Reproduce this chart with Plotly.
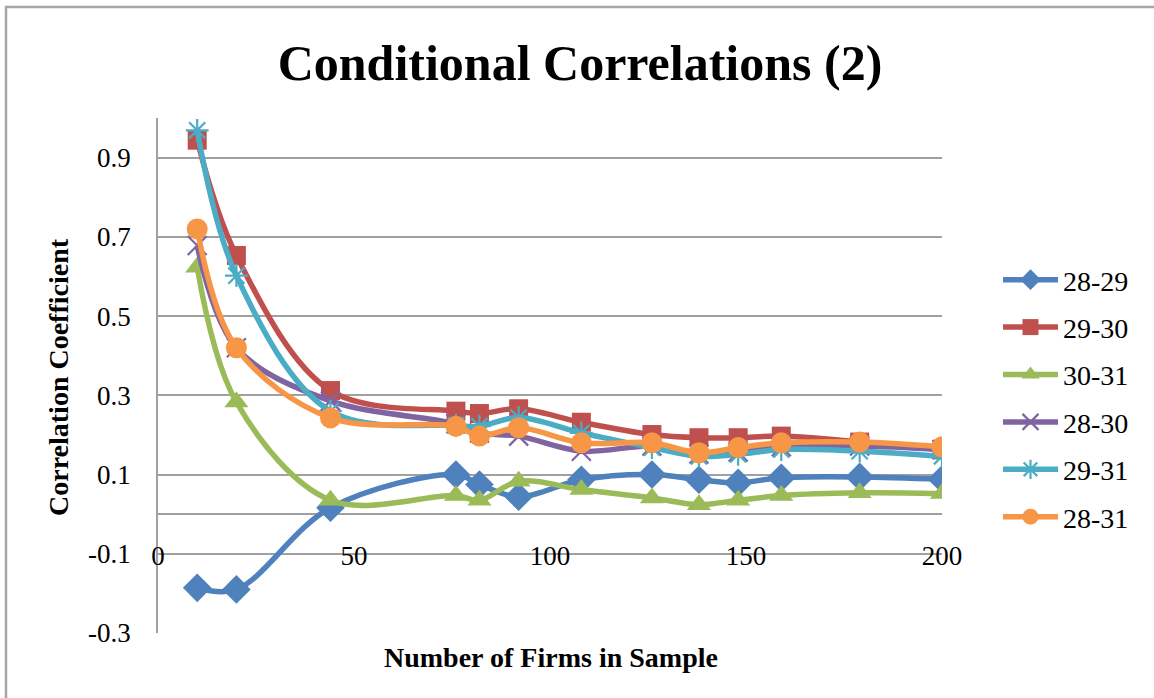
import plotly.graph_objects as go

firms = [10, 20, 44, 76, 82, 92, 108, 126, 138, 148, 159, 179, 200]
s_28_29 = [-0.186, -0.190, 0.016, 0.100, 0.075, 0.044, 0.087, 0.100, 0.087, 0.079, 0.092, 0.094, 0.088]
s_29_30 = [0.944, 0.653, 0.312, 0.260, 0.254, 0.266, 0.232, 0.201, 0.193, 0.193, 0.197, 0.182, 0.162]
s_30_31 = [0.623, 0.283, 0.035, 0.047, 0.035, 0.083, 0.062, 0.041, 0.024, 0.035, 0.047, 0.054, 0.052]
s_28_30 = [0.678, 0.420, 0.286, 0.228, 0.205, 0.197, 0.159, 0.172, 0.152, 0.157, 0.170, 0.172, 0.163]
s_29_31 = [0.969, 0.602, 0.260, 0.224, 0.222, 0.244, 0.205, 0.168, 0.146, 0.151, 0.163, 0.159, 0.146]
s_28_31 = [0.720, 0.420, 0.243, 0.222, 0.197, 0.218, 0.180, 0.180, 0.155, 0.168, 0.180, 0.182, 0.170]

names = ["28-29", "29-30", "30-31", "28-30", "29-31", "28-31"]
values = [s_28_29, s_29_30, s_30_31, s_28_30, s_29_31, s_28_31]

y_tickvals = [-0.3, -0.1, 0.1, 0.3, 0.5, 0.7, 0.9]
y_ticktext = ["-0.3", "-0.1", "0.1", "0.3", "0.5", "0.7", "0.9"]
x_tickvals = [0, 50, 100, 150, 200]

colors = ["#4F81BD", "#C0504D", "#9BBB59", "#8064A2", "#4BACC6", "#F79646"]
symbols = ["diamond", "square", "triangle-up", "x-thin-open", "asterisk-open", "circle"]
sizes = [22, 19, 21, 19, 19, 21]

FONT = "Liberation Serif"

fig = go.Figure()
for nm, ys, c, sym, sz in zip(names, values, colors, symbols, sizes):
    marker = dict(symbol=sym, size=sz, color=c)
    if sym.endswith("-open"):
        marker["line"] = dict(color=c, width=2.2)
    fig.add_trace(go.Scatter(
        x=firms, y=ys, name=nm, mode="lines+markers",
        line=dict(color=c, width=5.5, shape="spline", smoothing=1.0),
        marker=marker, legendgroup=nm,
    ))

W, H = 1154, 698
L, R, T, B = 158, 942, 118, 633
pw, ph = R - L, B - T

def px_x(x):
    return (x - L) / pw

def px_y(y):
    return (B - y) / ph

fig.update_layout(
    width=W, height=H,
    margin=dict(l=L, r=W - R, t=T, b=H - B),
    paper_bgcolor="white", plot_bgcolor="white",
    font=dict(family=FONT, color="black", size=27),
    title=dict(text="<b>Conditional Correlations (2)</b>", x=580 / W, xref="container",
               y=1 - 62 / H, yref="container", xanchor="center", yanchor="middle",
               font=dict(family=FONT, size=50, color="black")),
    showlegend=True,
    legend=dict(x=px_x(998), y=px_y(255), xanchor="left", yanchor="top",
                font=dict(family=FONT, size=28), tracegroupgap=8,
                itemwidth=55, bgcolor="rgba(0,0,0,0)"),
    xaxis=dict(range=[0, 200], tickvals=x_tickvals, showgrid=False,
               zeroline=False, showline=False, ticks="", anchor="free",
               position=2 / 13, ticklabelstandoff=-17,
               tickfont=dict(family=FONT, size=27)),
    yaxis=dict(range=[-0.3, 1.0], tickvals=y_tickvals, ticktext=y_ticktext,
               showgrid=True, gridcolor="#A0A0A0", gridwidth=1.8,
               zeroline=True, zerolinecolor="#A0A0A0", zerolinewidth=1.8,
               showline=True, linecolor="#A0A0A0", linewidth=1.8, ticks="",
               ticklabelstandoff=20, tickfont=dict(family=FONT, size=27)),
    annotations=[
        dict(text="<b>Correlation Coefficient</b>", x=px_x(58), y=px_y(377),
             xref="paper", yref="paper", showarrow=False, textangle=-90,
             xanchor="center", yanchor="middle",
             font=dict(family=FONT, size=28)),
        dict(text="<b>Number of Firms in Sample</b>", x=px_x(551), y=px_y(657),
             xref="paper", yref="paper", showarrow=False,
             xanchor="center", yanchor="middle",
             font=dict(family=FONT, size=28)),
    ],
    shapes=[
        dict(type="rect", xref="paper", yref="paper",
             x0=px_x(6), x1=px_x(W + 20), y0=px_y(7), y1=px_y(H + 20),
             line=dict(color="#A6A6A6", width=2.5), fillcolor="rgba(0,0,0,0)",
             layer="below"),
    ],
)

fig.write_html("out.html")
